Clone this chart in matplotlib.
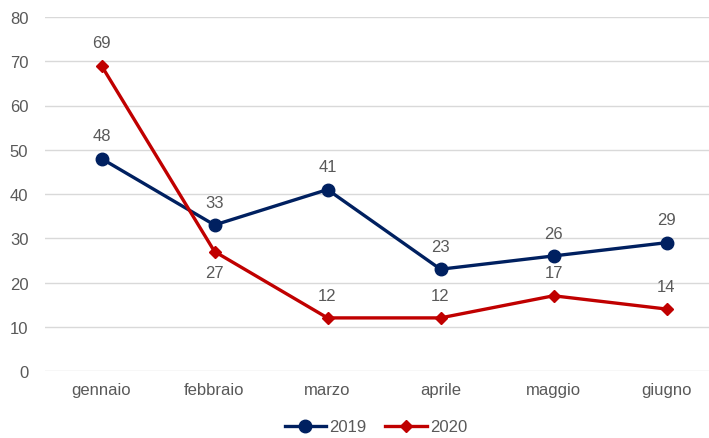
import matplotlib
matplotlib.use("Agg")
import matplotlib.pyplot as plt

categories = ["gennaio", "febbraio", "marzo", "aprile", "maggio", "giugno"]
s2019 = [48, 33, 41, 23, 26, 29]
s2020 = [69, 27, 12, 12, 17, 14]
pos2020 = ["above", "below", "above", "above", "above", "above"]

plt.rcParams['font.family'] = ['Liberation Sans', 'DejaVu Sans']
W, H = 709, 439
fig = plt.figure(figsize=(W/100, H/100), dpi=100)
ax = fig.add_axes([45/W, 67/H, 678/W, 354/H])
x = list(range(len(categories)))
gray = "#595959"
c19, c20 = "#002060", "#C00000"
fs = 12

ax.plot(x, s2019, color=c19, lw=2.4, marker="o", ms=9, label="2019", zorder=3)
ax.plot(x, s2020, color=c20, lw=2.4, marker="D", ms=6.5, label="2020", zorder=3)

for xi, v in zip(x, s2019):
    ax.annotate(str(v), (xi, v), xytext=(0, 11), textcoords="offset points",
                ha="center", va="bottom", fontsize=fs, color=gray)
for xi, v, p in zip(x, s2020, pos2020):
    if p == "above":
        ax.annotate(str(v), (xi, v), xytext=(0, 11), textcoords="offset points",
                    ha="center", va="bottom", fontsize=fs, color=gray)
    else:
        ax.annotate(str(v), (xi, v), xytext=(0, -10), textcoords="offset points",
                    ha="center", va="top", fontsize=fs, color=gray)

ax.set_xlim(-0.5, len(categories) - 0.5)
ax.set_ylim(0, 80)
ax.set_yticks(range(0, 81, 10))
ax.set_xticks(x)
ax.set_xticklabels(categories)
ax.tick_params(axis="both", length=0, labelsize=fs, labelcolor=gray)
ax.tick_params(axis="x", pad=8)
ax.tick_params(axis="y", pad=12)
ax.grid(axis="y", color="#d9d9d9", lw=1)
ax.set_axisbelow(True)
for s in ax.spines.values():
    s.set_visible(False)

fig.legend(loc="center", bbox_to_anchor=(376/W, 1 - 428/H), ncol=2, frameon=False,
           fontsize=fs, labelcolor=gray, handlelength=2.5, columnspacing=1.1,
           handletextpad=0.2)
fig.savefig("out.png", dpi=100)
